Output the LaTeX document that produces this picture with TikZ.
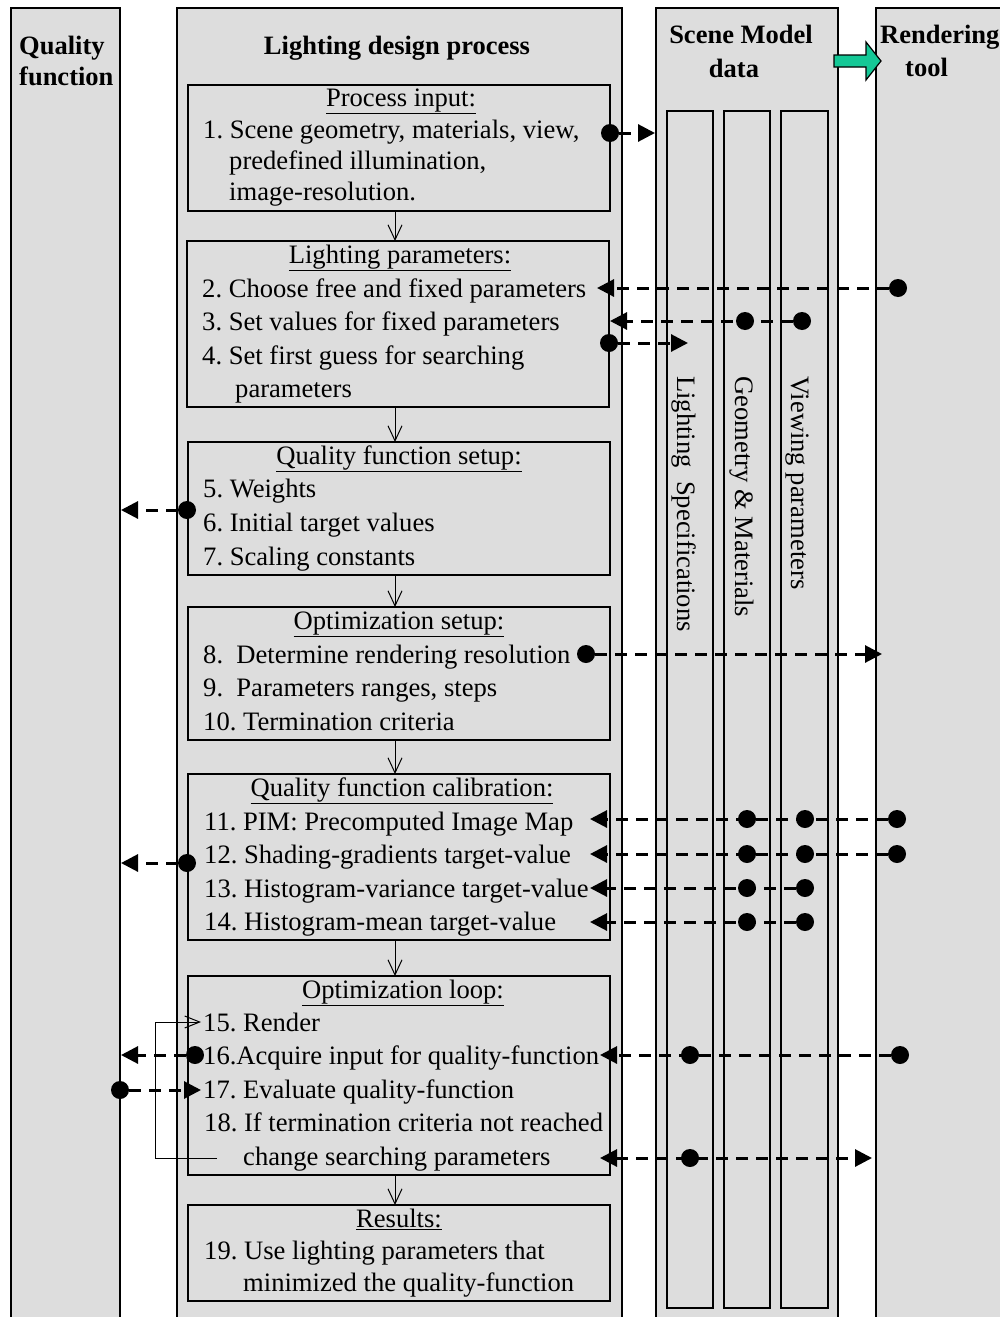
\documentclass[tikz,border=0pt]{standalone}
\usepackage{fontspec}
\setmainfont{Liberation Serif}
\usetikzlibrary{arrows.meta}
\definecolor{bg}{RGB}{221,221,221}
\definecolor{teal}{RGB}{20,200,150}
\frenchspacing
\begin{document}
\begin{tikzpicture}[x=1pt,y=-1pt,
  pbox/.style={fill=bg,draw=black,line width=1.3pt},
  sub/.style={fill=bg,draw=black,line width=1.4pt},
  txt/.style={anchor=base west,inner sep=0pt,font=\fontsize{26.6}{31}\selectfont},
  ttl/.style={anchor=base,inner sep=0pt,font=\fontsize{26.6}{31}\selectfont},
  hdr/.style={inner sep=0pt,font=\fontsize{26.5}{30}\selectfont\bfseries},
  vtxt/.style={anchor=base west,inner sep=0pt,rotate=-90,font=\fontsize{26.6}{31}\selectfont},
  dotn/.style={circle,fill=black,inner sep=0pt,minimum size=18pt},
  dl/.style={dash pattern=on 12pt off 8pt,line width=3pt,-{Triangle[length=17pt,width=17pt]}},
  dlb/.style={dash pattern=on 12pt off 8pt,line width=3pt,{Triangle[length=17pt,width=17pt]}-{Triangle[length=17pt,width=17pt]}},
  down/.style={line width=1pt,-{Straight Barb[length=15pt,width=14pt,line width=1pt]}}
]
\useasboundingbox (0,0) rectangle (1000,1317);
\fill[white] (0,0) rectangle (1000,1317);
% columns
\fill[bg] (11,8) rectangle (120,1330);
\draw[line width=2.8pt] (11,1330) -- (11,8) -- (120,8) -- (120,1330);
\fill[bg] (177,8) rectangle (622,1330);
\draw[line width=2.8pt] (177,1330) -- (177,8) -- (622,8) -- (622,1330);
\fill[bg] (656,8) rectangle (838,1330);
\draw[line width=2.8pt] (656,1330) -- (656,8) -- (838,8) -- (838,1330);
\fill[bg] (876,8) rectangle (1010,1330);
\draw[line width=2.8pt] (876,1330) -- (876,8) -- (1010,8);
% headers
\node[hdr,anchor=base west] (hq1) at (19,54) {Quality};
\node[hdr,anchor=base west] (hq2) at (19,85) {function};
\node[hdr,anchor=base] (hl) at (397,54) {Lighting design process};
\node[hdr,anchor=base] (hs1) at (741,43) {Scene Model};
\node[hdr,anchor=base] (hs2) at (734,77) {data};
\node[hdr,anchor=base west] (hr1) at (880,43) {Rendering};
\node[hdr,anchor=base west] (hr2) at (905,76) {tool};
% green arrow
\filldraw[fill=teal,draw=black,line width=1.2pt] (834,55) -- (866,55) -- (866,42) -- (881,61) -- (866,80) -- (866,67) -- (834,67) -- cycle;
% sub columns
\draw[sub] (667,111) rectangle (713,1308);
\draw[sub] (724,111) rectangle (770,1308);
\draw[sub] (781,111) rectangle (828,1308);
\node[vtxt] (v1) at (677,376) {Lighting\ \ Specifications};
\node[vtxt] (v2) at (735,376) {Geometry \& Materials};
\node[vtxt] (v3) at (791,376) {Viewing parameters};
% process boxes
\draw[pbox] (188,85) rectangle (610,211);
\draw[pbox] (187,241) rectangle (609,407);
\draw[pbox] (188,442) rectangle (610,575);
\draw[pbox] (188,607) rectangle (610,740);
\draw[pbox] (188,774) rectangle (610,940);
\draw[pbox] (188,976) rectangle (610,1175);
\draw[pbox] (188,1205) rectangle (610,1301);
% down arrows
\coordinate (a1) at (395,211); \coordinate (a2) at (395,241);
\coordinate (b1) at (395,407); \coordinate (b2) at (395,442);
\coordinate (c1) at (395,575); \coordinate (c2) at (395,607);
\coordinate (e1) at (395,740); \coordinate (e2) at (395,774);
\coordinate (f1) at (395,940); \coordinate (f2) at (395,976);
\coordinate (g1) at (395,1175); \coordinate (g2) at (395,1205);
\draw[down] (a1) -- (a2);
\draw[down] (b1) -- (b2);
\draw[down] (c1) -- (c2);
\draw[down] (e1) -- (e2);
\draw[down] (f1) -- (f2);
\draw[down] (g1) -- (g2);
% titles
\node[ttl] (T1) at (401,106) {\underline{Process input:}};
\node[ttl] (T2) at (400,263) {\underline{Lighting parameters:}};
\node[ttl] (T3) at (399,464) {\underline{Quality function setup:}};
\node[ttl] (T4) at (399,629) {\underline{Optimization setup:}};
\node[ttl] (T5) at (402,796) {\underline{Quality function calibration:}};
\node[ttl] (T6) at (403,998) {\underline{Optimization loop:}};
\node[ttl] (T7) at (399,1227) {\underline{Results:}};
% items
\node[txt] (i1a) at (203,138) {1. Scene geometry, materials, view,};
\node[txt] (i1b) at (229,169) {predefined illumination,};
\node[txt] (i1c) at (229,200) {image-resolution.};
\node[txt] (i2) at (202,297) {2. Choose free and fixed parameters};
\node[txt] (i3) at (202,330) {3. Set values for fixed parameters};
\node[txt] (i4a) at (202,364) {4. Set first guess for searching};
\node[txt] (i4b) at (235,397) {parameters};
\node[txt] (i5) at (203,497) {5. Weights};
\node[txt] (i6) at (203,531) {6. Initial target values};
\node[txt] (i7) at (203,565) {7. Scaling constants};
\node[txt] (i8) at (203,663) {8.\ \ Determine rendering resolution};
\node[txt] (i9) at (203,696) {9.\ \ Parameters ranges, steps};
\node[txt] (i10) at (203,730) {10. Termination criteria};
\node[txt] (i11) at (204,830) {11. PIM: Precomputed Image Map};
\node[txt] (i12) at (204,863) {12. Shading-gradients target-value};
\node[txt] (i13) at (204,897) {13. Histogram-variance target-value};
\node[txt] (i14) at (204,930) {14. Histogram-mean target-value};
\node[txt] (i15) at (203,1031) {15. Render};
\node[txt] (i16) at (203,1064) {16.Acquire input for quality-function};
\node[txt] (i17) at (203,1098) {17. Evaluate quality-function};
\node[txt] (i18a) at (204,1131) {18. If termination criteria not reached};
\node[txt] (i18b) at (243,1165) {change searching parameters};
\node[txt] (i19a) at (204,1259) {19. Use lighting parameters that};
\node[txt] (i19b) at (243,1291) {minimized the quality-function};
% loop
\coordinate (L0) at (217,1158);
\coordinate (L1) at (155,1158);
\coordinate (L2) at (155,1022);
\coordinate (L3) at (201,1022);
\draw[line width=1pt,-{Straight Barb[length=15pt,width=12pt,line width=1pt]}] (L0) -- (L1) -- (L2) -- (L3);
% tips
\coordinate (t1) at (655,133);
\coordinate (t2) at (597,288);
\coordinate (t3) at (610,321);
\coordinate (t4) at (688,343);
\coordinate (t5) at (121,510);
\coordinate (t6) at (882,654);
\coordinate (t7) at (590,819);
\coordinate (t8) at (590,854);
\coordinate (t9) at (590,888);
\coordinate (t10) at (590,922);
\coordinate (t11) at (121,863);
\coordinate (t12) at (121,1055);
\coordinate (t13) at (600,1055);
\coordinate (t14) at (201,1090);
\coordinate (t15a) at (600,1158);
\coordinate (t15b) at (872,1158);
% dots
\node[dotn] (d1) at (610,133) {};
\node[dotn] (d2) at (898,288) {};
\node[dotn] (d3a) at (745,321) {};
\node[dotn] (d3b) at (802,321) {};
\node[dotn] (d4) at (609,343) {};
\node[dotn] (d5) at (187,510) {};
\node[dotn] (d6) at (586,654) {};
\node[dotn] (d7a) at (747,819) {};
\node[dotn] (d7b) at (805,819) {};
\node[dotn] (d7c) at (897,819) {};
\node[dotn] (d8a) at (747,854) {};
\node[dotn] (d8b) at (805,854) {};
\node[dotn] (d8c) at (897,854) {};
\node[dotn] (d9a) at (747,888) {};
\node[dotn] (d9b) at (805,888) {};
\node[dotn] (d10a) at (747,922) {};
\node[dotn] (d10b) at (805,922) {};
\node[dotn] (d11) at (187,863) {};
\node[dotn] (d12) at (195,1055) {};
\node[dotn] (d13a) at (690,1055) {};
\node[dotn] (d13b) at (900,1055) {};
\node[dotn] (d14) at (120,1090) {};
\node[dotn] (d15) at (690,1158) {};
% dashed connectors
\draw[dl] (d1) -- (t1);
\draw[dl] (d2) -- (t2);
\draw[dl] (d3b) -- (t3);
\draw[dl] (d4) -- (t4);
\draw[dl] (d5) -- (t5);
\draw[dl] (d6) -- (t6);
\draw[dl] (d7c) -- (t7);
\draw[dl] (d8c) -- (t8);
\draw[dl] (d9b) -- (t9);
\draw[dl] (d10b) -- (t10);
\draw[dl] (d11) -- (t11);
\draw[dl] (d12) -- (t12);
\draw[dl] (d13b) -- (t13);
\draw[dl] (d14) -- (t14);
\draw[dlb] (t15a) -- (t15b);
\end{tikzpicture}
\end{document}
